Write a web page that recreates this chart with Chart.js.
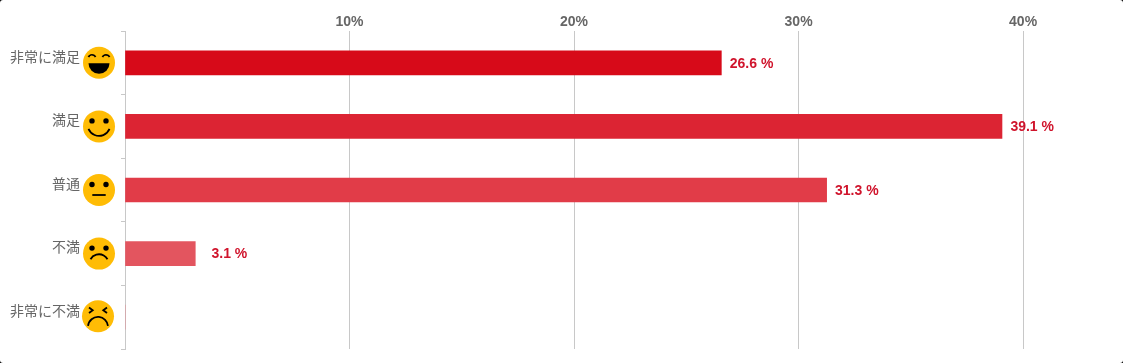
<!DOCTYPE html>
<html>
<head>
<meta charset="utf-8">
<style>
    html, body { margin: 0; padding: 0; background: #000; }
    #card { position: relative; width: 1123px; height: 363px; background: #fff; border-radius: 3px; overflow: hidden; }
</style>
<script src="https://cdn.jsdelivr.net/npm/chart.js@4/dist/chart.umd.min.js"></script>
</head>
<body>
<div id="card"><canvas id="chart"></canvas></div>
<script>
const categories = ["非常に満足", "満足", "普通", "不満", "非常に不満"]
const percentValues = [26.56, 39.06, 31.25, 3.13, 0]
const faceMoods = ["laugh", "smile", "neutral", "sad", "upset"]
const tickValues = [10, 20, 30, 40]

// right edge of the value label sits this far past the end of the bar
const labelReach = 52

function line(ctx, pts) {
    ctx.beginPath()
    pts.forEach((p, i) => i ? ctx.lineTo(p[0], p[1]) : ctx.moveTo(p[0], p[1]))
    ctx.stroke()
}

function drawFace(ctx, x, y, mood) {
    ctx.save()
    // the last face sits a touch up and left of the others
    if (mood === "upset") ctx.translate(x - 1, y - 1)
    else ctx.translate(x, y)
    ctx.fillStyle = "#ffbc05"
    ctx.beginPath()
    ctx.arc(0, 0, 16, 0, Math.PI * 2)
    ctx.fill()

    ctx.fillStyle = "#000"
    ctx.strokeStyle = "#000"
    ctx.lineWidth = 1.8
    if (mood === "laugh") {
        ctx.beginPath()
        ctx.arc(-7, -4, 4, Math.PI * 1.15, Math.PI * 1.85)
        ctx.stroke()
        ctx.beginPath()
        ctx.arc(7, -4, 4, Math.PI * 1.15, Math.PI * 1.85)
        ctx.stroke()
        ctx.beginPath()
        ctx.arc(0, 0.5, 10.5, 0, Math.PI)
        ctx.closePath()
        ctx.fill()
    } else if (mood === "upset") {
        line(ctx, [[-9, -8.7], [-5.3, -6], [-9, -3.3]])
        line(ctx, [[9, -8.7], [5.3, -6], [9, -3.3]])
        ctx.beginPath()
        ctx.arc(0, 10.7, 10, Math.PI * 1.03, Math.PI * 1.97)
        ctx.stroke()
    } else {
        ctx.beginPath()
        ctx.arc(-7, -5.5, 2.7, 0, Math.PI * 2)
        ctx.arc(7, -5.5, 2.7, 0, Math.PI * 2)
        ctx.fill()
        if (mood === "smile") {
            ctx.beginPath()
            ctx.arc(0, -1.9, 11.4, Math.PI * 0.126, Math.PI * 0.874)
            ctx.stroke()
        } else if (mood === "neutral") {
            line(ctx, [[-6.7, 5], [6.7, 5]])
        } else {
            ctx.beginPath()
            ctx.arc(0, 10.4, 9.7, Math.PI * 1.161, Math.PI * 1.839)
            ctx.stroke()
        }
    }
    ctx.restore()
}

const barExtras = {
    id: "barExtras",
    afterDatasetsDraw(chart) {
        const { ctx, scales } = chart
        ctx.save()
        ctx.font = "bold 14px 'Liberation Sans', Arial, sans-serif"
        ctx.fillStyle = "#d0142c"
        ctx.textAlign = "right"
        ctx.textBaseline = "middle"
        percentValues.forEach((v, i) => {
            const y = scales.y.getPixelForValue(i)
            drawFace(ctx, scales.y.left + 99, y, faceMoods[i])
            if (v > 0) {
                ctx.fillText(v.toFixed(1) + " %", scales.x.getPixelForValue(v) + labelReach, y + 1)
            }
        })
        ctx.restore()
    }
}

new Chart(document.getElementById("chart").getContext("2d"), {
    type: "bar",
    data: {
        labels: categories,
        datasets: [
            {
                data: percentValues,
                backgroundColor: ["#d70a19", "#dc2433", "#e13c48", "#e3555f", "#e8707a"],
                barThickness: 24,
            }
        ]
    },
    options: {
        indexAxis: "y",
        responsive: true,
        maintainAspectRatio: false,
        animation: false,
        layout: { padding: { top: 1, bottom: 14 } },
        plugins: {
            legend: { display: false },
            tooltip: { enabled: false },
        },
        scales: {
            x: {
                position: "top",
                min: 0,
                max: 44.45,
                afterFit(scale) {
                    scale.height = 30
                    scale.paddingLeft = scale.paddingRight = 0
                },
                afterBuildTicks(scale) {
                    scale.ticks = [0].concat(tickValues).map(v => ({ value: v }))
                },
                border: { display: false },
                grid: { color: "#c8c8c8", drawTicks: false },
                ticks: {
                    padding: 0,
                    color: "#666",
                    font: { family: "'Liberation Sans', Arial, sans-serif", size: 14, weight: "bold" },
                    maxRotation: 0,
                    callback: v => tickValues.includes(v) ? v + "%" : "",
                },
            },
            y: {
                afterFit(scale) {
                    scale.width = 125
                    scale.paddingTop = scale.paddingBottom = 0
                },
                border: { color: "#c8c8c8" },
                grid: { drawOnChartArea: false, color: "#c8c8c8", tickLength: 4 },
                ticks: {
                    padding: 41,
                    labelOffset: -6.5,
                    autoSkip: false,
                    color: "#666",
                    font: { family: "'Noto Sans CJK JP', sans-serif", size: 14 },
                },
            },
        },
    },
    plugins: [barExtras],
})
</script>
</body>
</html>
